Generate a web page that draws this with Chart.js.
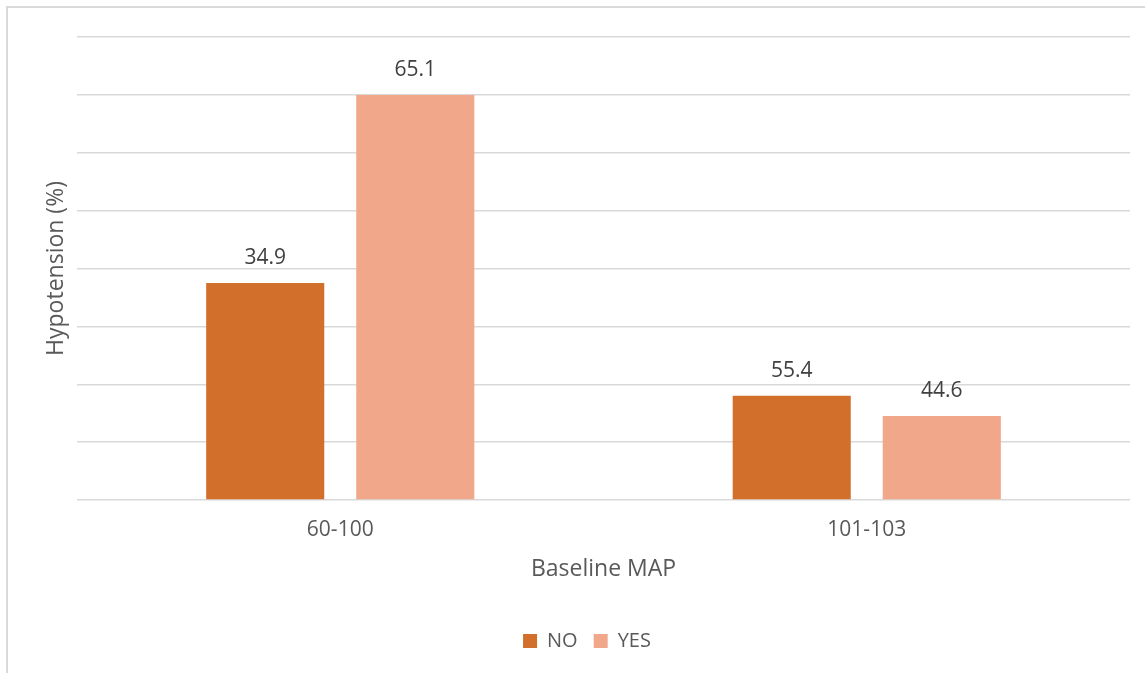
<!DOCTYPE html>
<html>
<head>
<meta charset="utf-8">
<script src="https://cdn.jsdelivr.net/npm/chart.js@4/dist/chart.umd.min.js"></script>
<style>
  html, body { margin: 0; padding: 0; background: #ffffff; overflow: hidden; }
  #frame { position: absolute; left: 6px; top: 6px; width: 1200px; height: 720px; border: 2px solid #d9d9d9; box-sizing: border-box; }
  #wrap { position: absolute; left: 0; top: 0; width: 1145px; height: 673px; }
</style>
</head>
<body>
<div id="frame"></div>
<div id="wrap"><canvas id="c" width="1145" height="673"></canvas></div>
<script>
// ---- data ----
const categories = ["60-100", "101-103"];
const seriesNames = ["NO", "YES"];
const noValues = [15.0, 7.2];        // bar heights as drawn
const yesValues = [28.0, 5.8];
const noLabels = ["34.9", "55.4"];   // printed data labels
const yesLabels = ["65.1", "44.6"];
const yAxisTitle = "Hypotension (%)";
const xAxisTitle = "Baseline MAP";

const FONT = "'Open Sans', 'DejaVu Sans', sans-serif";
Chart.defaults.font.family = FONT;

const dataLabelPlugin = {
  id: 'dataLabels',
  afterDatasetsDraw(chart) {
    const ctx = chart.ctx;
    const labelSets = [noLabels, yesLabels];
    ctx.save();
    ctx.font = "21px " + FONT;
    ctx.fillStyle = "#404040";
    ctx.textAlign = "center";
    ctx.textBaseline = "middle";
    chart.data.datasets.forEach((ds, di) => {
      const meta = chart.getDatasetMeta(di);
      meta.data.forEach((bar, i) => {
        ctx.fillText(labelSets[di][i], bar.x, bar.y - 25);
      });
    });
    ctx.restore();
  }
};

new Chart(document.getElementById('c'), {
  type: 'bar',
  data: {
    labels: categories,
    datasets: [
      { label: seriesNames[0], data: noValues, backgroundColor: '#D26F2B', borderWidth: 0,
        categoryPercentage: 0.57, barPercentage: 0.787 },
      { label: seriesNames[1], data: yesValues, backgroundColor: '#F1A88A', borderWidth: 0,
        categoryPercentage: 0.57, barPercentage: 0.787 }
    ]
  },
  options: {
    responsive: false,
    animation: false,
    layout: { padding: { left: 44, right: 15, top: 37, bottom: 12 } },
    scales: {
      x: {
        grid: { display: false, drawTicks: false },
        border: { display: false },
        ticks: { color: '#595959', font: { size: 21 }, padding: 17 },
        title: { display: true, text: xAxisTitle, color: '#595959', font: { size: 23 }, padding: { top: 0, bottom: 32 } },
        afterFit(scale) { scale.height = 115; }
      },
      y: {
        min: 0, max: 32,
        ticks: { display: false, stepSize: 4 },
        grid: { color: '#d9d9d9', lineWidth: 1.5, drawTicks: false },
        border: { display: false },
        title: { display: true, text: yAxisTitle, color: '#595959', font: { size: 23, lineHeight: 1 }, padding: { top: 0.5, bottom: 0 } },
        afterFit(scale) { scale.width = 33; }
      }
    },
    plugins: {
      legend: {
        position: 'bottom',
        labels: { boxWidth: 14, boxHeight: 14, padding: 16, color: '#595959', font: { size: 20 } }
      },
      tooltip: { enabled: false }
    }
  },
  plugins: [dataLabelPlugin]
});
</script>
</body>
</html>
